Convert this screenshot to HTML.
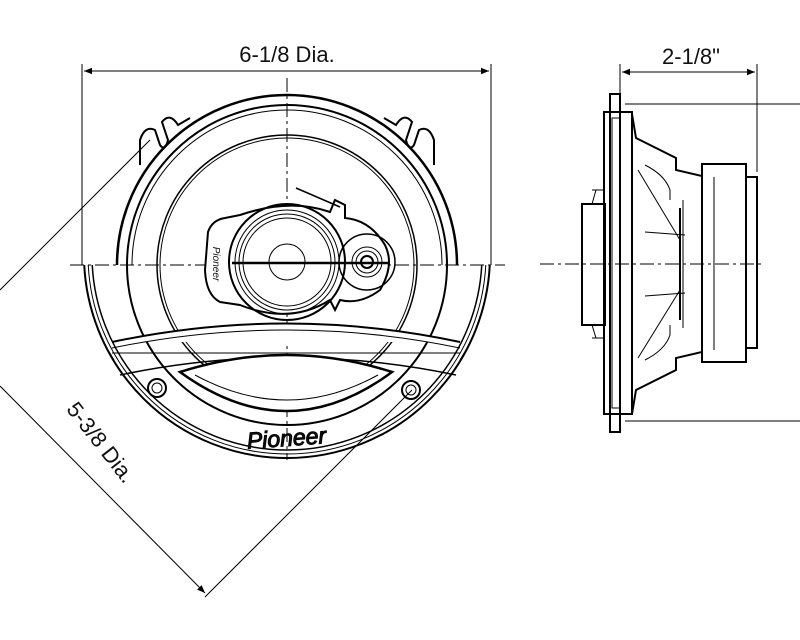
<!DOCTYPE html>
<html><head><meta charset="utf-8"><style>
html,body{margin:0;padding:0;background:#fff;}
svg{display:block;}
text{font-family:"Liberation Sans",sans-serif;fill:#111;}
</style></head><body>
<svg width="800" height="640" viewBox="0 0 800 640" xmlns="http://www.w3.org/2000/svg">
<defs>
<marker id="ar" viewBox="0 0 10 10" refX="10" refY="5" markerWidth="12" markerHeight="8" orient="auto-start-reverse" markerUnits="userSpaceOnUse"><path d="M0,1 L10,5 L0,9 z" fill="#000"/></marker>
<clipPath id="top"><rect x="0" y="0" width="800" height="265"/></clipPath>
<clipPath id="bot"><rect x="0" y="265" width="800" height="400"/></clipPath>
</defs>
<g fill="none" stroke="#000" stroke-width="1">
<line x1="82" y1="64" x2="82" y2="265"/>
<line x1="491" y1="64" x2="491" y2="265"/>
<line x1="84" y1="71" x2="489" y2="71" marker-start="url(#ar)" marker-end="url(#ar)"/>
<line x1="0" y1="290" x2="150" y2="140"/>
<line x1="205" y1="597" x2="412" y2="390"/>
<line x1="0" y1="386" x2="205" y2="593" marker-end="url(#ar)"/>
<line x1="70" y1="265" x2="505" y2="265" stroke-dasharray="14,4,3,4"/>
<line x1="287" y1="78" x2="287" y2="460" stroke-dasharray="14,4,3,4"/>
<line x1="540" y1="264" x2="765" y2="264" stroke-dasharray="14,4,3,4"/>

<g clip-path="url(#top)">
<circle cx="287" cy="265" r="170" stroke-width="2.5"/>
<circle cx="287" cy="265" r="160" stroke-width="2"/>
<circle cx="287" cy="265" r="155"/>
<circle cx="287" cy="265" r="130" stroke-width="1.5"/>
<circle cx="287" cy="265" r="127"/>
</g>
<path d="M140,165 L140,140 Q145,125 155,130 L160,145 Q165,152 168,140 L162,122 Q170,112 178,125 L190,118" stroke-width="2"/>
<path d="M434,165 L434,140 Q429,125 419,130 L414,145 Q409,152 406,140 L412,122 Q404,112 396,125 L384,118" stroke-width="2"/>
<g clip-path="url(#bot)">
<circle cx="287" cy="255" r="203" stroke-width="2"/>
<circle cx="287" cy="255" r="199"/>
<circle cx="287" cy="255" r="195" stroke-width="1.5"/>
<circle cx="287" cy="265" r="160" stroke-width="2"/>
<circle cx="287" cy="265" r="130" stroke-width="1.5"/>
<circle cx="287" cy="265" r="127"/>
</g>
<path d="M112,342 Q287,305 460,342" stroke-width="2" fill="#fff"/>
<path d="M112,348 Q287,312 460,348"/>
<path d="M112,353 L460,353"/>
<path d="M120,375 Q287,340 456,375" stroke-width="1.5"/>
<path d="M108,350 L114,360 M466,350 L460,360"/>
<path d="M180,372 Q287,338 392,372 Q287,450 180,372 z" fill="#fff" stroke-width="2.5"/>
<path d="M195,375 Q287,425 378,375"/>
<circle cx="157" cy="388" r="9" stroke-width="2"/><circle cx="157" cy="388" r="5"/>
<circle cx="411" cy="390" r="9" stroke-width="2"/><circle cx="411" cy="390" r="5"/>
<path d="M208,232 Q212,220 225,218 L240,215 Q290,198 330,212 L335,200 L345,205 L345,218 Q370,220 385,245 Q395,265 380,290 Q360,305 340,300 L335,310 L330,300 Q290,325 240,305 L220,302 Q206,295 205,270 z" stroke-width="2" fill="#fff"/>
<circle cx="287" cy="262" r="58" stroke-width="2"/>
<circle cx="287" cy="262" r="52"/>
<circle cx="287" cy="262" r="48"/>
<circle cx="287" cy="262" r="44"/>
<circle cx="287" cy="262" r="18"/>
<circle cx="367" cy="262" r="28" stroke-width="1.5"/>
<circle cx="367" cy="262" r="15"/>
<circle cx="367" cy="262" r="11"/>
<circle cx="367" cy="262" r="6" stroke-width="2"/>
<line x1="232" y1="263" x2="390" y2="263" stroke-width="2.5"/>
<line x1="296" y1="188" x2="340" y2="207" stroke-width="1.5"/>

<line x1="620" y1="64" x2="620" y2="96"/>
<line x1="757" y1="64" x2="757" y2="172"/>
<line x1="622" y1="72" x2="755" y2="72" marker-start="url(#ar)" marker-end="url(#ar)"/>
<line x1="625" y1="104" x2="800" y2="104"/>
<line x1="625" y1="421" x2="800" y2="421"/>
<rect x="610" y="94" width="10" height="338" stroke-width="2"/>
<rect x="604" y="112" width="28" height="302" stroke-width="2"/>
<rect x="612" y="118" width="8" height="290"/>
<path d="M632,114 L636,138 L676,158 L676,170 L702,176 L702,352 L676,358 L676,370 L636,390 L632,414" stroke-width="2"/>
<rect x="702" y="164" width="44" height="198" stroke-width="2"/>
<rect x="746" y="177" width="11" height="171" stroke-width="2"/>
<line x1="714" y1="177" x2="714" y2="350"/>
<path d="M582,204 L605,204 L605,325 L582,325 z" stroke-width="2"/>
<path d="M592,190 L604,190 M592,338 L604,338 M596,190 L592,204 M596,338 L592,325"/>
<path d="M645,165 Q665,175 670,190 L670,200 M645,360 Q665,350 670,335 L670,325"/>
<path d="M645,232 L685,235 M645,296 L685,293"/>
<line x1="680" y1="208" x2="680" y2="320" stroke-width="2"/>
<line x1="683" y1="200" x2="683" y2="328"/>
<path d="M638,170 L680,240 M638,358 L680,290"/>
</g>
<text x="287" y="62" font-size="22" text-anchor="middle">6-1/8 Dia.</text>
<text x="691" y="64" font-size="22" text-anchor="middle">2-1/8"</text>
<text x="95" y="447" font-size="22" text-anchor="middle" transform="rotate(52 95 447)">5-3/8 Dia.</text>
<text x="287" y="446" font-size="23" font-style="italic" text-anchor="middle" fill="#fff" stroke="#000" stroke-width="1" transform="rotate(-4 287 446)">Pioneer</text>
<text x="213" y="264" font-size="10" font-style="italic" text-anchor="middle" transform="rotate(90 213 264)">Pioneer</text>
</svg>
</body></html>
